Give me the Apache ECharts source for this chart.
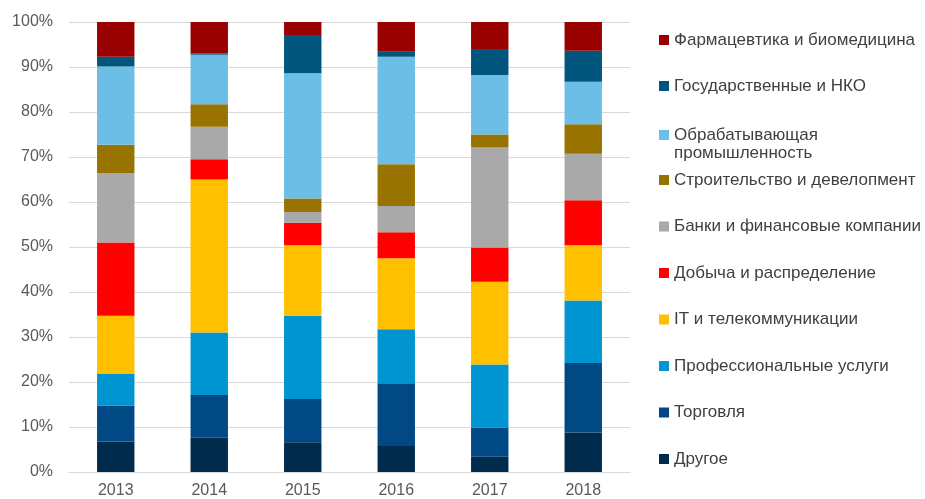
<html lang="ru">
<head>
    <meta charset="UTF-8">
    <title>Отрасли по годам</title>
    <script src="https://cdn.jsdelivr.net/npm/echarts@6/dist/echarts.min.js"></script>
</head>
<style>
    html, body {
        margin: 0;
        padding: 0;
        background: #ffffff;
    }
    #container {
        width: 925px;
        height: 499px;
    }
</style>
<body>
<div id="container"></div>
<script>
    // годы по оси X
    var years = ['2013', '2014', '2015', '2016', '2017', '2018'];

    // доли, % (снизу вверх по стопке)
    var drugoe = [6.8, 7.6, 6.6, 5.8, 3.4, 8.8];
    var torgovlya = [8.0, 9.5, 9.6, 13.9, 6.5, 15.4];
    var profUslugi = [7.1, 13.9, 18.5, 12.0, 14.0, 13.9];
    var itTelecom = [12.8, 34.0, 15.7, 15.8, 18.4, 12.3];
    var dobycha = [16.3, 4.5, 5.0, 5.8, 7.6, 10.0];
    var banki = [15.4, 7.2, 2.4, 5.8, 22.2, 10.3];
    var stroitelstvo = [6.3, 5.0, 3.0, 9.3, 2.9, 6.6];
    var obrabatyv = [17.4, 11.0, 27.8, 23.9, 13.2, 9.4];
    var gosNko = [2.2, 0.3, 8.5, 1.1, 5.8, 6.9];
    var farma = [7.7, 7.0, 2.9, 6.6, 6.0, 6.4];

    var names = [
        'Другое',
        'Торговля',
        'Профессиональные услуги',
        'IT и телекоммуникации',
        'Добыча и распределение',
        'Банки и финансовые компании',
        'Строительство и девелопмент',
        'Обрабатывающая промышленность',
        'Государственные и НКО',
        'Фармацевтика и биомедицина'
    ];
    var values = [drugoe, torgovlya, profUslugi, itTelecom, dobycha, banki, stroitelstvo, obrabatyv, gosNko, farma];
    var colors = ['#002B4D', '#004985', '#0094D0', '#FFC000', '#FF0000', '#A9A9A9', '#997300', '#6CBEE6', '#00567D', '#990000'];

    var font = '"Liberation Sans", Arial, sans-serif';

    var chart = echarts.init(document.getElementById('container'));

    var series = [];
    for (var i = 0; i < names.length; i++)
    {
        series.push({
            name: names[i],
            type: 'bar',
            stack: 'total',
            barWidth: '40%',
            itemStyle: {color: colors[i]},
            data: values[i]
        });
    }

    var legendText = {
        color: '#404040',
        fontFamily: font,
        fontSize: 17,
        lineHeight: 18
    };

    function legendLabel(name)
    {
        if (name === 'Обрабатывающая промышленность')
        {
            return 'Обрабатывающая\nпромышленность';
        }
        return name;
    }

    var option = {
        animation: false,
        color: colors,
        tooltip: {
            trigger: 'axis',
            axisPointer: {type: 'shadow'}
        },
        grid: {
            left: 69,
            right: 295,
            top: 22,
            bottom: 27
        },
        legend: [
            {
                orient: 'vertical',
                left: 654,
                top: 26,
                itemWidth: 10,
                itemHeight: 10,
                itemGap: 28,
                icon: 'rect',
                textStyle: legendText,
                data: [names[9], names[8]]
            },
            {
                // две строки, значок на уровне первой
                orient: 'vertical',
                left: 654,
                top: 121,
                itemWidth: 10,
                itemHeight: 28,
                icon: 'path://M0,0H10V10H0Z M0,28L10,28',
                formatter: legendLabel,
                textStyle: legendText,
                data: [names[7]]
            },
            {
                orient: 'vertical',
                left: 654,
                top: 166,
                itemWidth: 10,
                itemHeight: 10,
                itemGap: 28.5,
                icon: 'rect',
                textStyle: legendText,
                data: [names[6], names[5], names[4], names[3], names[2], names[1], names[0]]
            }
        ],
        xAxis: {
            type: 'category',
            data: years,
            axisLine: {show: true, lineStyle: {color: '#D9D9D9'}},
            axisTick: {show: false},
            axisLabel: {
                color: '#595959',
                fontFamily: font,
                fontSize: 16,
                margin: 11
            }
        },
        yAxis: {
            type: 'value',
            min: 0,
            max: 100,
            interval: 10,
            axisLine: {show: false},
            axisTick: {show: false},
            axisLabel: {
                formatter: '{value}%',
                color: '#595959',
                fontFamily: font,
                fontSize: 16,
                margin: 16
            },
            splitLine: {lineStyle: {color: '#D9D9D9'}}
        },
        series: series
    };

    chart.setOption(option);
</script>
</body>
</html>
